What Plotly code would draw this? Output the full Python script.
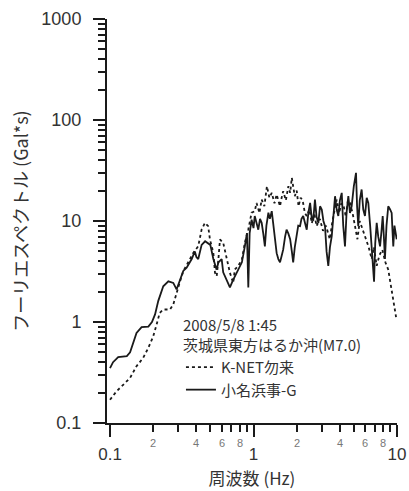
import numpy as np
import plotly.graph_objects as go

# K-NET 勿来 (dotted)
freq_knet = [0.10, 0.111, 0.124, 0.138, 0.153, 0.17, 0.185, 0.20, 0.211, 0.222,
             0.235, 0.262, 0.276, 0.29, 0.307, 0.324, 0.351, 0.381, 0.412, 0.435,
             0.459, 0.483, 0.497, 0.525, 0.539, 0.554, 0.569, 0.584, 0.615, 0.649,
             0.685, 0.722, 0.741, 0.78, 0.83, 0.87, 0.92, 0.97, 1.02, 1.05,
             1.10, 1.14, 1.19, 1.24, 1.29, 1.34, 1.40, 1.45, 1.53, 1.57,
             1.61, 1.68, 1.75, 1.80, 1.85, 1.90, 1.94, 2.00, 2.06, 2.13,
             2.20, 2.28, 2.35, 2.45, 2.55, 2.65, 2.75, 2.90, 3.05, 3.20,
             3.40, 3.55, 3.70, 3.80, 3.95, 4.10, 4.25, 4.40, 4.55, 4.70,
             4.90, 5.10, 5.30, 5.50, 5.67, 5.90, 6.10, 6.35, 6.66, 6.90,
             7.22, 7.55, 7.90, 8.30, 8.69, 8.95, 9.18, 9.40, 9.68, 9.85]
amp_knet = [0.17, 0.206, 0.24, 0.28, 0.365, 0.44, 0.555, 0.72, 0.94, 1.23,
            1.33, 1.33, 1.49, 1.95, 2.5, 3.18, 3.85, 4.84, 5.63, 8.24,
            9.6, 8.9, 6.56, 4.84, 3.07, 2.84, 4.16, 6.56, 6.08, 4.16,
            3.07, 2.44, 3.31, 3.57, 4.16, 6.08, 8.24, 12.1, 12.5, 15.1,
            12.0, 16.3, 14.0, 22.1, 17.0, 19.0, 15.0, 18.3, 14.0, 17.0,
            19.7, 16.0, 22.1, 19.0, 26.8, 21.0, 17.6, 20.0, 14.0, 17.0,
            16.0, 12.0, 11.2, 13.0, 9.5, 12.0, 8.9, 10.5, 8.0, 9.0,
            6.6, 10.0, 14.0, 16.3, 12.0, 15.0, 14.0, 11.0, 16.0, 15.1,
            12.0, 9.0, 6.6, 10.0, 8.9, 7.5, 6.6, 5.5, 4.2, 5.5,
            3.6, 4.6, 5.2, 3.9, 3.3, 2.6, 2.1, 1.7, 1.33, 1.12]

# 小名浜事-G (solid)
freq_onahama = [0.10, 0.105, 0.114, 0.125, 0.131, 0.138, 0.146, 0.153, 0.166, 0.177,
                0.185, 0.196, 0.206, 0.217, 0.235, 0.255, 0.276, 0.291, 0.307, 0.324,
                0.342, 0.371, 0.39, 0.40, 0.412, 0.435, 0.46, 0.50, 0.525, 0.553,
                0.57, 0.60, 0.615, 0.65, 0.685, 0.72, 0.75, 0.78, 0.83, 0.87,
                0.90, 0.92, 0.94, 0.97, 1.00, 1.02, 1.05, 1.08, 1.11, 1.14,
                1.17, 1.20, 1.23, 1.27, 1.30, 1.34, 1.37, 1.41, 1.45, 1.49,
                1.53, 1.57, 1.61, 1.66, 1.70, 1.75, 1.80, 1.85, 1.89, 1.94,
                2.00, 2.05, 2.11, 2.16, 2.22, 2.28, 2.35, 2.41, 2.48, 2.55,
                2.61, 2.68, 2.75, 2.83, 2.91, 2.99, 3.07, 3.15, 3.23, 3.32,
                3.41, 3.51, 3.60, 3.70, 3.80, 3.90, 4.00, 4.12, 4.22, 4.34,
                4.45, 4.58, 4.70, 4.83, 5.00, 5.18, 5.27, 5.37, 5.50, 5.67,
                5.82, 5.98, 6.15, 6.31, 6.50, 6.66, 6.80, 6.92, 7.05, 7.22,
                7.40, 7.62, 7.80, 7.95, 8.10, 8.24, 8.45, 8.69, 8.95, 9.18,
                9.30, 9.42, 9.60, 9.80, 9.95]
amp_onahama = [0.35, 0.40, 0.45, 0.46, 0.46, 0.50, 0.65, 0.78, 0.89, 0.90,
               0.90, 1.0, 1.19, 1.62, 2.26, 2.53, 2.44, 2.1, 2.63, 3.2,
               3.45, 4.2, 5.0, 4.4, 4.2, 5.8, 6.3, 5.8, 4.2, 3.3,
               3.9, 4.2, 3.1, 2.6, 2.2, 2.6, 2.9, 3.3, 3.9, 5.6,
               7.6, 2.2, 7.6, 10.3, 8.5, 11.2, 9.5, 8.2, 10.5, 9.6,
               7.5, 5.6, 9.0, 12.1, 10.5, 12.5, 9.6, 6.5, 4.8, 4.2,
               3.9, 4.5, 5.2, 7.0, 8.2, 7.5, 6.6, 5.0, 3.9, 5.5,
               7.1, 9.0, 8.9, 10.5, 11.2, 9.5, 8.2, 12.0, 15.1, 10.5,
               10.3, 16.3, 11.0, 9.6, 14.0, 13.0, 10.0, 8.9, 5.0, 3.6,
               5.5, 7.1, 12.0, 17.6, 13.0, 11.2, 16.0, 19.0, 9.0, 5.6,
               12.0, 17.6, 12.0, 14.0, 22.0, 30.0, 14.0, 8.9, 16.0, 20.5,
               13.0, 11.2, 17.0, 15.1, 9.0, 5.6, 3.5, 2.5, 6.0, 9.6,
               7.0, 5.6, 8.0, 11.2, 7.0, 4.2, 9.0, 14.0, 13.0, 12.0,
               8.0, 5.6, 9.0, 7.0, 6.6]

y_major = [0.1, 1, 10, 100, 1000]
y_major_text = ["0.1", "1", "10", "100", "1000"]
x_major = [0.1, 1, 10]
x_major_text = ["0.1", "1", "10"]
x_minor_labelled = [0.2, 0.4, 0.6, 0.8, 2, 4, 6, 8]
x_minor_text = ["2", "4", "6", "8", "2", "4", "6", "8"]
minor_steps = [2, 3, 4, 5, 6, 7, 8, 9]

title_text = "2008/5/8 1:45<br>茨城県東方はるか沖(M7.0)"
jp_font = "Noto Sans CJK JP"
ink = "#1a1a1a"
label_col = "#333333"

# both axes are logarithmic: decimal exponents are plotted on linear axes
lg = np.log10
x_range = [-1.021, 1.0]
y_range = [-1.0, 3.0]


def exps(values):
    return [float(v) for v in lg(values)]


def sub_decades(decades):
    return [float(lg(m * d)) for d in decades[:-1] for m in minor_steps]


fig = go.Figure()
fig.add_trace(go.Scatter(
    x=exps(freq_knet), y=exps(amp_knet), mode="lines", name="K-NET勿来",
    customdata=np.column_stack([freq_knet, amp_knet]),
    hovertemplate="%{customdata[0]} Hz, %{customdata[1]}<extra></extra>",
    line=dict(color=ink, width=1.8, dash="dot"),
))
fig.add_trace(go.Scatter(
    x=exps(freq_onahama), y=exps(amp_onahama), mode="lines", name="小名浜事-G",
    customdata=np.column_stack([freq_onahama, amp_onahama]),
    hovertemplate="%{customdata[0]} Hz, %{customdata[1]}<extra></extra>",
    line=dict(color=ink, width=1.8),
))

# small labels under the intermediate ticks of the frequency axis
for v, t in zip(x_minor_labelled, x_minor_text):
    fig.add_annotation(
        x=float(lg(v)), y=0, xref="x", yref="paper", yanchor="top",
        yshift=-12, text=t, showarrow=False,
        font=dict(family="Liberation Sans", size=11, color="#777777"),
    )

minor_style = dict(ticks="outside", ticklen=7, tickwidth=2, tickcolor=ink,
                   tickmode="array", showgrid=False)

fig.update_layout(
    width=409, height=491,
    margin=dict(l=107, r=12, t=19, b=68),
    paper_bgcolor="white", plot_bgcolor="white",
    showlegend=True,
    legend=dict(
        x=0.255, y=0.275, xanchor="left", yanchor="top",
        bgcolor="rgba(0,0,0,0)",
        font=dict(family=jp_font, size=15, color=label_col),
        title=dict(text=title_text, font=dict(family=jp_font, size=15, color=label_col)),
        tracegroupgap=0, itemwidth=30,
    ),
    xaxis=dict(
        type="linear", range=x_range, automargin=False,
        showgrid=False, zeroline=False,
        showline=True, linecolor=ink, linewidth=2,
        ticks="outside", ticklen=12, tickwidth=2, tickcolor=ink,
        tickmode="array", tickvals=exps(x_major), ticktext=x_major_text,
        ticklabelstandoff=3,
        tickfont=dict(family="Liberation Sans", size=17, color=label_col),
        minor=dict(tickvals=sub_decades(x_major), **minor_style),
        title=dict(text="周波数 (Hz)", standoff=10,
                   font=dict(family=jp_font, size=17, color=label_col)),
    ),
    yaxis=dict(
        type="linear", range=y_range, automargin=False,
        showgrid=False, zeroline=False,
        showline=True, linecolor=ink, linewidth=2,
        ticks="outside", ticklen=12, tickwidth=2, tickcolor=ink,
        tickmode="array", tickvals=exps(y_major), ticktext=y_major_text,
        ticklabelstandoff=8,
        tickfont=dict(family="Liberation Sans", size=18, color=label_col),
        minor=dict(tickvals=sub_decades(y_major), **minor_style),
        title=dict(text="フーリエスペクトル (Gal*s)", standoff=8,
                   font=dict(family=jp_font, size=18, color=label_col)),
    ),
)

fig.write_html("out.html")
